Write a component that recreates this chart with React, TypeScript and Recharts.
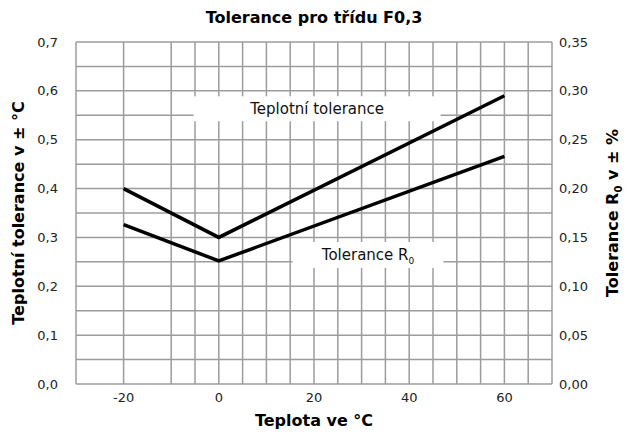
import React from "react"
import { LineChart, Line, XAxis, YAxis, CartesianGrid, ReferenceArea, Customized } from "recharts"

// Tolerance pro třídu F0,3
const temps = [-20, 0, 60]
const tempTolerance = [0.4, 0.3, 0.59] // ± °C, left axis
const r0Tolerance = [0.163, 0.126, 0.233] // ± %, right axis

const xTicks = [-20, 0, 20, 40, 60]
const leftTicks = [0, 0.1, 0.2, 0.3, 0.4, 0.5, 0.6, 0.7]
const rightTicks = [0, 0.05, 0.1, 0.15, 0.2, 0.25, 0.3, 0.35]
const gridX = [-30, -25, -20, -15, -10, -5, 0, 5, 10, 15, 20, 25, 30, 35, 40, 45, 50, 55, 60, 65, 70]
const gridY = [0, 0.05, 0.1, 0.15, 0.2, 0.25, 0.3, 0.35, 0.4, 0.45, 0.5, 0.55, 0.6, 0.65, 0.7]

const FONT = "'DejaVu Sans', Verdana, sans-serif"
const GRID = "#9c9c9c"

const tempData = temps.map((t, i) => ({ t, v: tempTolerance[i] }))
const r0Data = temps.map((t, i) => ({ t, v: r0Tolerance[i] }))

const comma = (digits: number) => (v: number) => v.toFixed(digits).replace(".", ",")

function BoxLabel({ viewBox, text, sub }: any) {
    if (!viewBox) return null
    const cx = viewBox.x + viewBox.width / 2
    const cy = viewBox.y + viewBox.height / 2
    return (
        <text x={cx} y={cy} dy={5} textAnchor="middle" fontFamily={FONT} fontSize={15} fill="#111">
            {text}
            {sub ? <tspan fontSize={9} dy={4}>{sub}</tspan> : null}
        </text>
    )
}

function Titles() {
    return (
        <g fontFamily={FONT} fontWeight="bold" fill="#000">
            <text x={314} y={23} textAnchor="middle" fontSize={16}>Tolerance pro třídu F0,3</text>
            <text x={314} y={426} textAnchor="middle" fontSize={16}>Teplota ve °C</text>
            <text x={24} y={213} textAnchor="middle" fontSize={16} transform="rotate(-90 24 213)">
                Teplotní tolerance v ± °C
            </text>
            <text x={618} y={213} textAnchor="middle" fontSize={16} transform="rotate(-90 618 213)">
                Tolerance R<tspan fontSize={10} dy={4}>0</tspan><tspan dy={-4}> v ± %</tspan>
            </text>
        </g>
    )
}

export default function App() {
    const tick = { fontFamily: FONT, fontSize: 13, fill: "#222" }
    return (
        <div style={{ position: "absolute", left: 0, top: 0, background: "#fff" }}>
            <LineChart width={627} height={432} margin={{ top: 42, right: 15, bottom: 18, left: 16 }}>
                <CartesianGrid
                    xAxisId="x"
                    yAxisId="left"
                    stroke={GRID}
                    strokeWidth={1.5}
                    verticalValues={gridX}
                    horizontalValues={gridY}
                />
                <XAxis
                    xAxisId="x"
                    dataKey="t"
                    type="number"
                    domain={[-30, 70]}
                    ticks={xTicks}
                    axisLine={false}
                    tickLine={false}
                    tickSize={0}
                    tickMargin={9}
                    height={30}
                    tick={tick}
                />
                <YAxis
                    yAxisId="left"
                    domain={[0, 0.7]}
                    ticks={leftTicks}
                    tickFormatter={comma(1)}
                    axisLine={false}
                    tickLine={false}
                    tickSize={0}
                    tickMargin={18}
                    width={60}
                    tick={tick}
                />
                <YAxis
                    yAxisId="right"
                    orientation="right"
                    domain={[0, 0.35]}
                    ticks={rightTicks}
                    tickFormatter={comma(2)}
                    axisLine={false}
                    tickLine={false}
                    tickSize={0}
                    tickMargin={7}
                    width={60}
                    tick={{ ...tick, textAnchor: "start" }}
                />
                <ReferenceArea
                    xAxisId="x"
                    yAxisId="left"
                    x1={-5.3}
                    x2={46.6}
                    y1={0.538}
                    y2={0.589}
                    fill="#fff"
                    fillOpacity={1}
                    stroke="none"
                    label={<BoxLabel text="Teplotní tolerance" />}
                />
                <ReferenceArea
                    xAxisId="x"
                    yAxisId="left"
                    x1={15.5}
                    x2={47.2}
                    y1={0.2374}
                    y2={0.2906}
                    fill="#fff"
                    fillOpacity={1}
                    stroke="none"
                    label={<BoxLabel text="Tolerance R" sub="0" />}
                />
                <Line
                    xAxisId="x"
                    yAxisId="left"
                    data={tempData}
                    dataKey="v"
                    stroke="#000"
                    strokeWidth={3.5}
                    dot={false}
                    strokeLinejoin="miter"
                    isAnimationActive={false}
                />
                <Line
                    xAxisId="x"
                    yAxisId="right"
                    data={r0Data}
                    dataKey="v"
                    stroke="#000"
                    strokeWidth={3.5}
                    dot={false}
                    strokeLinejoin="miter"
                    isAnimationActive={false}
                />
                <Customized component={Titles} />
            </LineChart>
        </div>
    )
}
